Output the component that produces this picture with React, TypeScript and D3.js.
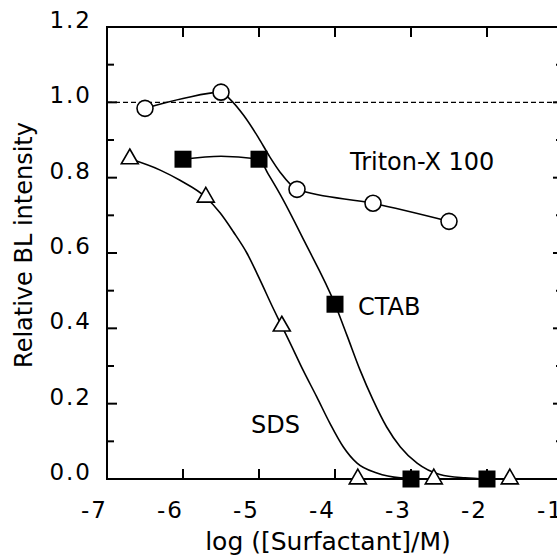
import React, { useEffect, useRef } from "react";
import * as d3 from "d3";

const xTicks = [-7, -6, -5, -4, -3, -2, -1];
const yTicks = [0, 0.2, 0.4, 0.6, 0.8, 1.0, 1.2];
const yMinor = [0.1, 0.3, 0.5, 0.7, 0.9, 1.1];
const yLabels = ["0.0", "0.2", "0.4", "0.6", "0.8", "1.0", "1.2"];

// measured points
const tritonX = [-6.5, -5.5, -4.5, -3.5, -2.5];
const tritonY = [0.984, 1.027, 0.769, 0.732, 0.684];
const ctabX = [-6, -5, -4, -3, -2];
const ctabY = [0.849, 0.849, 0.464, 0, 0];
const sdsX = [-6.7, -5.7, -4.7, -3.7, -2.7, -1.7];
const sdsY = [0.85, 0.748, 0.406, 0, 0, 0];

// fitted curves
const tritonFitX = [-6.5, -6.0, -5.5, -5.38, -5.2, -5.01, -4.86, -4.72, -4.5, -3.5, -2.5];
const tritonFitY = [0.984, 1.01, 1.027, 1.008, 0.965, 0.907, 0.856, 0.814, 0.769, 0.732, 0.684];
const ctabFitX = [-6, -5.5, -5, -4.88, -4.72, -4.4, -4.0, -3.84, -3.67, -3.5, -3.32, -3.14, -2.92, -2.62, -2.29, -2];
const ctabFitY = [0.849, 0.857, 0.849, 0.81, 0.755, 0.63, 0.464, 0.38, 0.289, 0.21, 0.138, 0.085, 0.042, 0.012, 0.003, 0];
const sdsFitX = [-6.7, -6.3, -6.04, -5.7, -5.51, -5.34, -5.16, -4.99, -4.82, -4.7, -4.59, -4.42, -4.24, -4.07, -3.89, -3.71, -3.45, -3.14, -2.8];
const sdsFitY = [0.85, 0.82, 0.793, 0.748, 0.706, 0.657, 0.6, 0.53, 0.456, 0.406, 0.361, 0.289, 0.218, 0.149, 0.085, 0.042, 0.016, 0.003, 0];

const FONT = "DejaVu Sans";

function Chart() {
    const ref = useRef<SVGSVGElement>(null);

    useEffect(() => {
        const svg = d3.select(ref.current);
        svg.selectAll("*").remove();

        const x = d3.scaleLinear().domain([-7, -1]).range([107, 563]);
        const y = d3.scaleLinear().domain([0, 1.2]).range([479, 27]);

        const g = svg.append("g");

        // frame
        g.append("rect")
            .attr("x", x(-7)).attr("y", y(1.2))
            .attr("width", x(-1) - x(-7)).attr("height", y(0) - y(1.2))
            .attr("fill", "none").attr("stroke", "black").attr("stroke-width", 2);

        // y ticks (left + right, inward)
        yTicks.forEach(v => {
            g.append("line").attr("x1", x(-7)).attr("x2", x(-7) + 10)
                .attr("y1", y(v)).attr("y2", y(v)).attr("stroke", "black").attr("stroke-width", 2);
            g.append("line").attr("x1", x(-1)).attr("x2", x(-1) - 10)
                .attr("y1", y(v)).attr("y2", y(v)).attr("stroke", "black").attr("stroke-width", 2);
        });
        yMinor.forEach(v => {
            g.append("line").attr("x1", x(-7)).attr("x2", x(-7) + 7)
                .attr("y1", y(v)).attr("y2", y(v)).attr("stroke", "black").attr("stroke-width", 2);
            g.append("line").attr("x1", x(-1)).attr("x2", x(-1) - 7)
                .attr("y1", y(v)).attr("y2", y(v)).attr("stroke", "black").attr("stroke-width", 2);
        });
        // x ticks (bottom + top, inward)
        xTicks.forEach(v => {
            g.append("line").attr("x1", x(v)).attr("x2", x(v))
                .attr("y1", y(0)).attr("y2", y(0) - 10).attr("stroke", "black").attr("stroke-width", 2);
            g.append("line").attr("x1", x(v)).attr("x2", x(v))
                .attr("y1", y(1.2)).attr("y2", y(1.2) + 10).attr("stroke", "black").attr("stroke-width", 2);
        });

        // tick labels
        g.selectAll(".ylab").data(yTicks).enter().append("text")
            .attr("x", 92).attr("y", d => y(d) + 1)
            .attr("text-anchor", "end")
            .attr("font-family", FONT).attr("font-size", 23).attr("letter-spacing", 2)
            .text((d, i) => yLabels[i]);
        g.selectAll(".xlab").data(xTicks).enter().append("text")
            .attr("x", d => x(d) + 1).attr("y", 518)
            .attr("text-anchor", "end")
            .attr("font-family", FONT).attr("font-size", 23).attr("letter-spacing", 2)
            .text(d => String(d));

        // axis titles
        g.append("text")
            .attr("x", 328).attr("y", 550)
            .attr("text-anchor", "middle")
            .attr("font-family", FONT).attr("font-size", 25)
            .text("log ([Surfactant]/M)");
        g.append("text")
            .attr("transform", "translate(32,245) rotate(-90)")
            .attr("text-anchor", "middle")
            .attr("font-family", FONT).attr("font-size", 24)
            .text("Relative BL intensity");

        // reference line at 1.0
        g.append("line")
            .attr("x1", x(-7)).attr("x2", x(-1))
            .attr("y1", y(1)).attr("y2", y(1))
            .attr("stroke", "black").attr("stroke-width", 1.3)
            .attr("stroke-dasharray", "5,3");

        const line = d3.line<[number, number]>()
            .x(d => x(d[0])).y(d => y(d[1]))
            .curve(d3.curveMonotoneX);

        const fits: [number[], number[]][] = [
            [tritonFitX, tritonFitY],
            [ctabFitX, ctabFitY],
            [sdsFitX, sdsFitY],
        ];
        fits.forEach(([xs, ys]) => {
            g.append("path")
                .attr("d", line(xs.map((v, i) => [v, ys[i]] as [number, number])))
                .attr("fill", "none").attr("stroke", "black").attr("stroke-width", 1.6);
        });

        // markers
        g.selectAll(".tri").data(sdsX).enter().append("path")
            .attr("transform", (d, i) => `translate(${x(d)},${y(sdsY[i])})`)
            .attr("d", d3.symbol().type(d3.symbolTriangle).size(125)())
            .attr("fill", "white").attr("stroke", "black").attr("stroke-width", 1.6);
        g.selectAll(".sq").data(ctabX).enter().append("rect")
            .attr("x", d => x(d) - 8.5)
            .attr("y", (d, i) => y(ctabY[i]) - 8.5)
            .attr("width", 17).attr("height", 17)
            .attr("fill", "black");
        g.selectAll(".circ").data(tritonX).enter().append("circle")
            .attr("cx", d => x(d))
            .attr("cy", (d, i) => y(tritonY[i]))
            .attr("r", 8)
            .attr("fill", "white").attr("stroke", "black").attr("stroke-width", 1.6);

        // series labels
        const labels: [string, number, number][] = [
            ["Triton-X 100", 350, 170],
            ["CTAB", 358, 315],
            ["SDS", 251, 433],
        ];
        labels.forEach(([t, lx, ly]) => {
            g.append("text").attr("x", lx).attr("y", ly)
                .attr("font-family", FONT).attr("font-size", 24)
                .text(t);
        });
    }, []);

    return (
        <svg
            ref={ref}
            width={557}
            height={557}
            style={{ position: "fixed", left: 0, top: 0, background: "white", overflow: "hidden" }}
        />
    );
}

export default function App() {
    return <Chart />;
}
